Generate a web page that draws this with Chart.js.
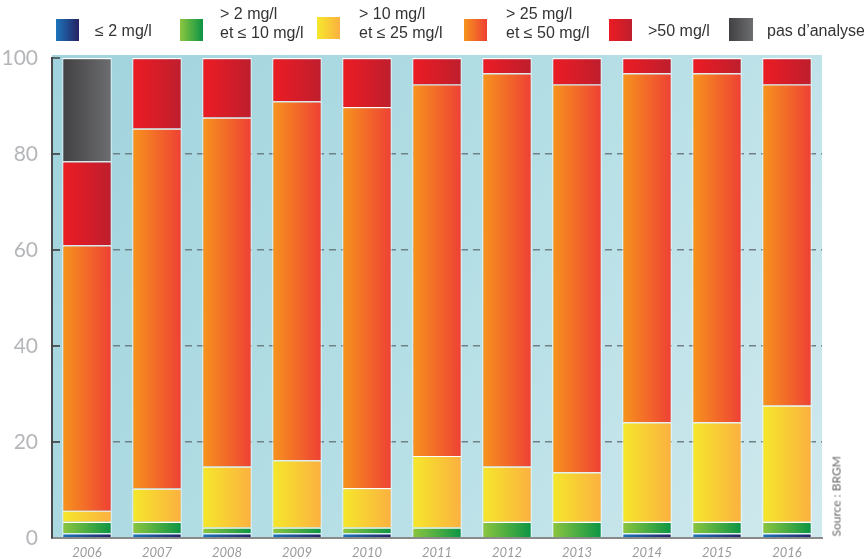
<!DOCTYPE html>
<html>
<head>
<meta charset="utf-8">
<script src="https://cdn.jsdelivr.net/npm/chart.js@4.4.1/dist/chart.umd.min.js"></script>
<style>
  html, body { margin: 0; padding: 0; background: #fff; }
  #wrap { position: relative; width: 864px; height: 559px; overflow: hidden; }
  #chart { position: absolute; left: 0; top: 0; }
  .lg-box { position: absolute; width: 23px; height: 22px; }
  .lg-txt { position: absolute; font-family: 'Liberation Sans', Arial, sans-serif; font-size: 16px; line-height: 19px; color: #333; white-space: nowrap; }
  #source { position: absolute; left: 796px; top: 489px; width: 80px; text-align: center; transform: rotate(-90deg);
            font-family: 'Lato', sans-serif; font-size: 12px; color: #666; white-space: nowrap; }
</style>
</head>
<body>
<div id="wrap">
  <canvas id="chart" width="864" height="559"></canvas>
  <div class="lg-box" style="left:56px;top:19px;background:linear-gradient(90deg,#1c75bc,#262262)"></div>
  <div class="lg-txt" style="left:95px;top:21px">≤ 2 mg/l</div>
  <div class="lg-box" style="left:180px;top:19px;background:linear-gradient(90deg,#8dc63f,#0b9444)"></div>
  <div class="lg-txt" style="left:220px;top:4px">&gt; 2 mg/l<br>et ≤ 10 mg/l</div>
  <div class="lg-box" style="left:317px;top:17px;background:linear-gradient(90deg,#f5e82b,#fbb040)"></div>
  <div class="lg-txt" style="left:359px;top:4px">&gt; 10 mg/l<br>et ≤ 25 mg/l</div>
  <div class="lg-box" style="left:464px;top:19px;background:linear-gradient(90deg,#f7941d,#ee4035)"></div>
  <div class="lg-txt" style="left:506px;top:4px">&gt; 25 mg/l<br>et ≤ 50 mg/l</div>
  <div class="lg-box" style="left:609px;top:19px;background:linear-gradient(90deg,#ec1c24,#be1e2d)"></div>
  <div class="lg-txt" style="left:648px;top:21px">&gt;50 mg/l</div>
  <div class="lg-box" style="left:729px;top:18px;width:24px;height:23px;background:linear-gradient(90deg,#414042,#6d6e71)"></div>
  <div class="lg-txt" style="left:767px;top:21px">pas d’analyse</div>
  <div id="source">Source : BRGM</div>
</div>
<script>
const years = ['2006', '2007', '2008', '2009', '2010', '2011', '2012', '2013', '2014', '2015', '2016'];
const yTicks = [0, 20, 40, 60, 80, 100];

// share of each class, %
const upTo2 = [1, 1, 1, 1, 1, 0, 0, 0, 1, 1, 1];
const from2to10 = [2.4, 2.4, 1.2, 1.2, 1.2, 2.2, 3.4, 3.4, 2.4, 2.4, 2.4];
const from10to25 = [2.3, 6.9, 12.7, 14.0, 8.2, 14.9, 11.5, 10.3, 20.7, 20.7, 24.2];
const from25to50 = [55.3, 75.0, 72.7, 74.8, 79.4, 77.4, 81.9, 80.8, 72.7, 72.7, 66.9];
const over50 = [17.5, 14.7, 12.4, 9.0, 10.2, 5.5, 3.2, 5.5, 3.2, 3.2, 5.5];
const noAnalysis = [21.5, 0, 0, 0, 0, 0, 0, 0, 0, 0, 0];

const BAR_PCT = 0.705;

function barGradient(c1, c2) {
    return function (context) {
        const chart = context.chart;
        const xs = chart.scales.x;
        if (!chart.chartArea || !xs || context.dataIndex === undefined) return c1;
        const cx = xs.getPixelForValue(context.dataIndex);
        const half = (chart.chartArea.width / years.length) * BAR_PCT / 2;
        const g = chart.ctx.createLinearGradient(cx - half, 0, cx + half, 0);
        g.addColorStop(0, c1);
        g.addColorStop(1, c2);
        return g;
    };
}

function makeSet(label, data, c1, c2) {
    return {
        label: label,
        data: data,
        backgroundColor: barGradient(c1, c2),
        borderColor: '#ffffff',
        borderWidth: { top: 1.2, left: 1, right: 1, bottom: 0 },
        borderSkipped: false,
        categoryPercentage: 1,
        barPercentage: BAR_PCT
    };
}

const bgPlugin = {
    id: 'panelBg',
    beforeDraw(chart) {
        const a = chart.chartArea;
        const ctx = chart.ctx;
        const g = ctx.createLinearGradient(a.left, a.top, a.right, a.bottom);
        g.addColorStop(0, '#a0d3dd');
        g.addColorStop(0.55, '#b6dfe6');
        g.addColorStop(1, '#d0e9ee');
        ctx.save();
        ctx.fillStyle = g;
        ctx.fillRect(a.left, a.top - 3, a.right - a.left, a.bottom - a.top + 3);
        ctx.restore();
    },
    afterDraw(chart) {
        // small ticks crossing the left axis
        const a = chart.chartArea;
        const ys = chart.scales.y;
        const ctx = chart.ctx;
        ctx.save();
        ctx.strokeStyle = '#444';
        ctx.lineWidth = 1.5;
        yTicks.forEach(v => {
            if (v === 0) return;
            const y = ys.getPixelForValue(v);
            ctx.beginPath();
            ctx.moveTo(a.left - 1, y);
            ctx.lineTo(a.left + 8, y);
            ctx.stroke();
        });
        ctx.restore();
    }
};

new Chart(document.getElementById('chart'), {
    type: 'bar',
    data: {
        labels: years,
        datasets: [
            makeSet('≤ 2 mg/l', upTo2, '#1c75bc', '#262262'),
            makeSet('> 2 mg/l et ≤ 10 mg/l', from2to10, '#8dc63f', '#0b9444'),
            makeSet('> 10 mg/l et ≤ 25 mg/l', from10to25, '#f5e82b', '#fbb040'),
            makeSet('> 25 mg/l et ≤ 50 mg/l', from25to50, '#f7941d', '#ee4035'),
            makeSet('>50 mg/l', over50, '#ec1c24', '#be1e2d'),
            makeSet('pas d’analyse', noAnalysis, '#414042', '#6d6e71')
        ]
    },
    options: {
        responsive: false,
        animation: false,
        layout: { padding: { left: 0, top: 58, right: 42, bottom: 0 } },
        plugins: {
            legend: { display: false },
            tooltip: { enabled: false }
        },
        scales: {
            x: {
                stacked: true,
                grid: { display: false, drawTicks: false },
                border: { display: true, color: '#8a8a8a', width: 2 },
                ticks: {
                    color: '#9a9a9a',
                    padding: 7,
                    font: { family: 'Lato', size: 13, style: 'italic' }
                },
                afterFit(scale) { scale.height = 21; }
            },
            y: {
                stacked: true,
                min: 0,
                max: 100,
                afterBuildTicks(scale) { scale.ticks = yTicks.map(v => ({ value: v })); },
                grid: {
                    drawTicks: false,
                    color: ctx => (ctx.tick && (ctx.tick.value === 0 || ctx.tick.value === 100)) ? 'rgba(0,0,0,0)' : '#6f8186',
                    lineWidth: 1.5
                },
                border: { display: true, color: '#4a4a4a', width: 2, dash: [7, 5] },
                ticks: {
                    color: '#b4b6b9',
                    padding: 14,
                    font: { family: 'Lato', size: 21, lineHeight: 0.4 }
                },
                afterFit(scale) { scale.width = 52; }
            }
        }
    },
    plugins: [bgPlugin]
});
</script>
</body>
</html>
